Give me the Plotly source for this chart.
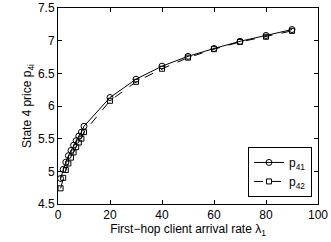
import plotly.graph_objects as go

x_vals = [1, 2, 3, 4, 5, 6, 7, 8, 9, 10, 20, 30, 40, 50, 60, 70, 80, 90]
p41 = [4.89, 5.03, 5.14, 5.24, 5.32, 5.40, 5.47, 5.54, 5.60, 5.69, 6.13, 6.41, 6.61, 6.76, 6.88, 6.99, 7.08, 7.17]
p42 = [4.74, 4.90, 5.02, 5.12, 5.21, 5.29, 5.37, 5.44, 5.50, 5.60, 6.08, 6.37, 6.57, 6.74, 6.87, 6.98, 7.06, 7.15]

FONT = "Liberation Sans"

fig = go.Figure()
fig.add_trace(go.Scatter(x=x_vals, y=p41, name="p<sub>41</sub>", mode="lines+markers",
                         line=dict(color="black", width=1),
                         marker=dict(symbol="circle-open", size=6, color="black", line=dict(width=1))))
fig.add_trace(go.Scatter(x=x_vals, y=p42, name="p<sub>42</sub>", mode="lines+markers",
                         line=dict(color="black", width=1, dash="dash"),
                         marker=dict(symbol="square-open", size=5, color="black", line=dict(width=1))))

axis_common = dict(showgrid=False, zeroline=False, showline=True, linecolor="black", linewidth=1,
                   mirror="ticks", ticks="inside", ticklen=4, tickcolor="black",
                   tickfont=dict(family=FONT, size=12, color="black"))
fig.update_xaxes(range=[0, 100], dtick=20, tick0=0,
                 title=dict(text="First−hop client arrival rate λ<sub>1</sub>", standoff=0,
                            font=dict(family=FONT, size=12, color="black")),
                 **axis_common)
fig.update_yaxes(range=[4.5, 7.5], dtick=0.5, tick0=4.5,
                 title=dict(text="State 4 price p<sub>4i</sub>", standoff=3,
                            font=dict(family=FONT, size=12, color="black")),
                 **axis_common)
fig.update_layout(width=331, height=242, margin=dict(l=58, r=13, t=8, b=38, autoexpand=False),
                  plot_bgcolor="white", paper_bgcolor="white", showlegend=True,
                  legend=dict(x=0.977, y=0.036, xanchor="right", yanchor="bottom",
                              bordercolor="black", borderwidth=1, bgcolor="white",
                              font=dict(family=FONT, size=12, color="black"),
                              itemwidth=30, tracegroupgap=0))
fig.write_html("out.html", config={"displayModeBar": False},
               post_script="document.body.style.margin='0px';document.body.style.overflow='hidden';")
